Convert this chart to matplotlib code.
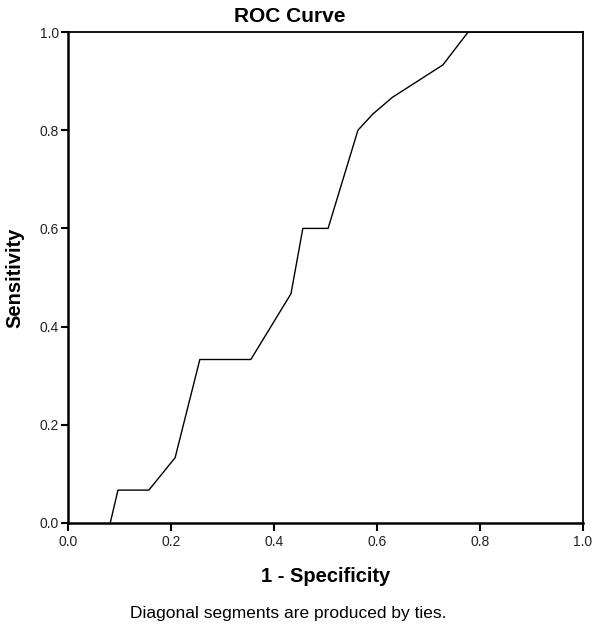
import matplotlib
matplotlib.use('Agg')
import matplotlib.pyplot as plt

# ROC points (1 - specificity, sensitivity)
fpr = [0.082, 0.097, 0.157, 0.208, 0.256, 0.355, 0.433, 0.456, 0.505, 0.563, 0.592, 0.630, 0.728, 0.777, 1.0]
tpr = [0.0, 0.067, 0.067, 0.133, 0.333, 0.333, 0.467, 0.600, 0.600, 0.800, 0.833, 0.867, 0.933, 1.0, 1.0]

ticks = [0.0, 0.2, 0.4, 0.6, 0.8, 1.0]
tick_labels = ['0.0', '0.2', '0.4', '0.6', '0.8', '1.0']

plt.rcParams['font.family'] = ['Liberation Sans', 'DejaVu Sans']

fig = plt.figure(figsize=(6, 6.28), dpi=100)
ax = fig.add_axes([68/600, 105/628, 515/600, 491/628])

ax.plot(fpr, tpr, color='black', linewidth=1.0)

ax.set_xlim(0, 1)
ax.set_ylim(0, 1)
ax.set_xticks(ticks)
ax.set_xticklabels(tick_labels)
ax.set_yticks(ticks)
ax.set_yticklabels(tick_labels)
ax.tick_params(axis='both', direction='out', width=1.5, labelsize=10, labelcolor='#222222')
ax.tick_params(axis='x', length=6, pad=2.5)
ax.tick_params(axis='y', length=5, pad=1.5)

for side in ['left', 'bottom']:
    ax.spines[side].set_linewidth(1.8)
for side in ['top', 'right']:
    ax.spines[side].set_linewidth(1.3)

# titles and labels placed in pixel terms to match the reference
fig.text(290/600, 1 - 22/628, 'ROC Curve', ha='center', va='baseline', fontsize=15, fontweight='bold')
fig.text(326/600, 1 - 582/628, '1 - Specificity', ha='center', va='baseline', fontsize=14.5, fontweight='bold')
fig.text(15/600, 1 - 278/628, 'Sensitivity', ha='center', va='center', rotation=90, fontsize=14.5, fontweight='bold')
fig.text(288/600, 1 - 618/628, 'Diagonal segments are produced by ties.', ha='center', va='baseline', fontsize=12.5)

plt.savefig('out.png', dpi=100)
